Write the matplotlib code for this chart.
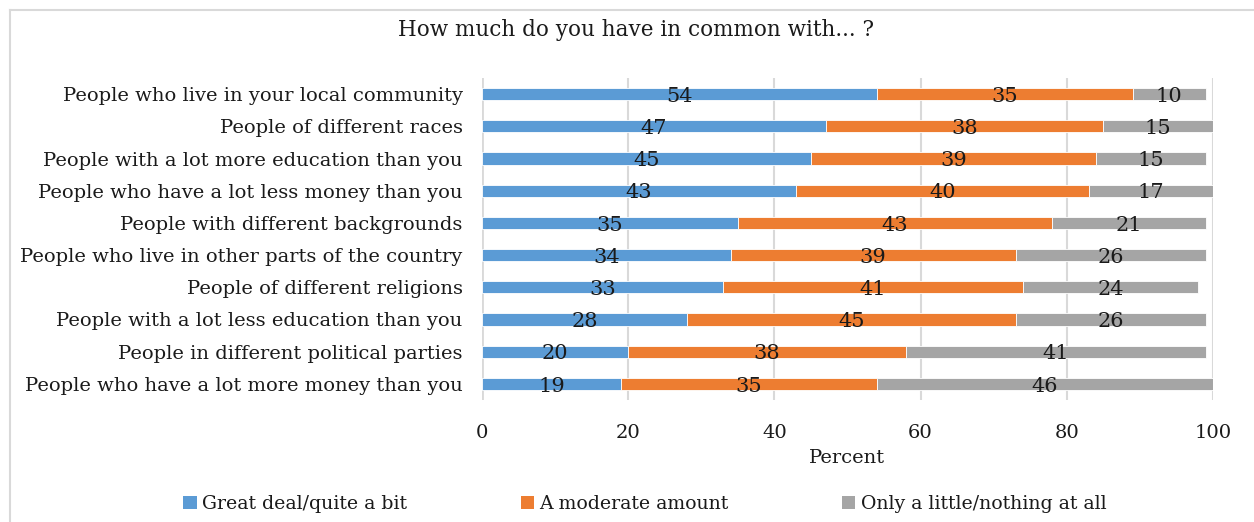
import matplotlib.pyplot as plt
from matplotlib.lines import Line2D
from matplotlib.patches import Patch
import numpy as np

plt.rcParams['font.family'] = ['DejaVu Serif']

categories = [
    "People who live in your local community",
    "People of different races",
    "People with a lot more education than you",
    "People who have a lot less money than you",
    "People with different backgrounds",
    "People who live in other parts of the country",
    "People of different religions",
    "People with a lot less education than you",
    "People in different political parties",
    "People who have a lot more money than you",
]
great_deal = [54, 47, 45, 43, 35, 34, 33, 28, 20, 19]
moderate = [35, 38, 39, 40, 43, 39, 41, 45, 38, 35]
little = [10, 15, 15, 17, 21, 26, 24, 26, 41, 46]

series = [
    ("Great deal/quite a bit", great_deal, "#5B9BD5"),
    ("A moderate amount", moderate, "#ED7D31"),
    ("Only a little/nothing at all", little, "#A5A5A5"),
]
x_ticks = [0, 20, 40, 60, 80, 100]

W, H = 1254, 522
fig = plt.figure(figsize=(W / 100, H / 100), dpi=100)
ax = fig.add_axes([482 / W, 1 - 400 / H, (1213 - 482) / W, (400 - 78) / H])

y = np.arange(len(categories))
left = np.zeros(len(categories))
for name, vals, color in series:
    vals = np.array(vals, dtype=float)
    ax.barh(y, vals, left=left, height=0.38, color=color, edgecolor="white",
            linewidth=0.6, label=name, zorder=3)
    for yi, l, v in zip(y, left, vals):
        ax.text(l + v / 2, yi + 0.07, f"{v:.0f}", ha="center", va="center",
                fontsize=15, color="#1a1a1a", zorder=4)
    left += vals

ax.set_ylim(len(categories) - 0.5, -0.5)
ax.set_xlim(0, 100)
ax.set_xticks(x_ticks)
ax.set_yticks(y)
ax.set_yticklabels(categories, fontsize=14, color="#1a1a1a")
ax.tick_params(axis="y", length=0, pad=14)
ax.tick_params(axis="x", length=0, pad=17, labelsize=14, labelcolor="#1a1a1a")
ax.grid(axis="x", color="#D9D9D9", linewidth=1.5, zorder=0)
for s in ax.spines.values():
    s.set_visible(False)
ax.axvline(0, color="#D9D9D9", linewidth=2, zorder=1)
ax.set_xlabel("Percent", fontsize=14, color="#1a1a1a", labelpad=5)

fig.text(636 / W, 1 - 30 / H, "How much do you have in common with... ?",
         ha="center", va="center", fontsize=15.5, color="#1a1a1a")

handles = [Patch(facecolor=c, edgecolor="none") for _, _, c in series]
fig.legend(handles, [n for n, _, _ in series], loc="center",
           bbox_to_anchor=(645 / W, 1 - 504 / H), ncol=3, frameon=False,
           fontsize=13.6, handlelength=0.7, handleheight=0.7, handletextpad=0.3,
           columnspacing=6.0, labelcolor="#1a1a1a")

# light frame along the top and left edges
fig.add_artist(Line2D([10 / W, 1], [1 - 10 / H, 1 - 10 / H], color="#D9D9D9",
                      linewidth=1.5, transform=fig.transFigure))
fig.add_artist(Line2D([10 / W, 10 / W], [0, 1 - 10 / H], color="#D9D9D9",
                      linewidth=1.5, transform=fig.transFigure))

fig.savefig("out.png", dpi=100)
